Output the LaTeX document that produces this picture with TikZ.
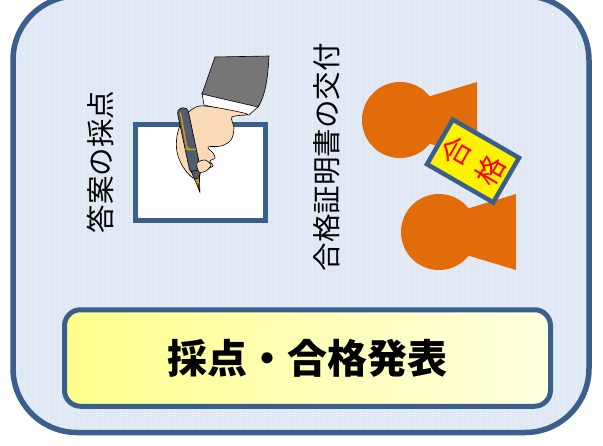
\documentclass[tikz,border=0pt]{standalone}
\usepackage{fontspec}
\newfontfamily\jp{Noto Sans CJK JP}
\definecolor{frame}{RGB}{58,95,140}
\definecolor{panel}{RGB}{224,232,243}
\definecolor{gridc}{RGB}{231,237,246}
\definecolor{stamp}{RGB}{227,108,10}
\definecolor{sleeve}{RGB}{118,118,118}
\definecolor{skin}{RGB}{250,217,183}
\definecolor{pen}{RGB}{82,92,110}
\definecolor{gold}{RGB}{196,152,30}
\definecolor{titlea}{RGB}{255,255,140}
\definecolor{titleb}{RGB}{255,255,225}
\tikzset{
  vlabel/.style={rotate=90, font=\jp\fontsize{28.5}{30}\selectfont},
  outline/.style={draw=black, line width=0.6pt},
}

\begin{document}
\begin{tikzpicture}[x=1pt,y=-1pt]
\useasboundingbox (0,0) rectangle (603,445);

% panel with faint grid
\begin{scope}
\clip[rounded corners=64] (13,-4) rectangle (589,432.5);
\fill[panel] (0,0) rectangle (603,445);
\draw[gridc, line width=0.5pt, step=6] (0,0) grid (603,445);
\end{scope}
\draw[frame, line width=5.5pt, rounded corners=64] (13,-4) rectangle (589,432.5);

% answer sheet
\draw[frame, line width=5pt, fill=white] (135.5,124.5) rectangle (265.5,220.5);

% sleeve and cuff
\draw[outline, fill=white] (202,93) -- (259,106) -- (249,115) -- (204,105) -- cycle;
\draw[outline, fill=sleeve] (215,57) -- (269,56) .. controls (268,75) and (266,95) .. (258,107)
  -- (202,94) -- cycle;

% hand
\draw[outline, fill=skin] plot[smooth cycle, tension=0.55] coordinates {
  (205,106) (247,114) (232,117) (234,128) (231,140) (221,146) (208,147)
  (213,153) (215,158) (210,161) (213,166) (206,169) (201,171) (199,178)
  (193,178) (183,167) (177,152) (177,136) (182,121) (191,110)};

% pen
\begin{scope}[shift={(182,108)}, rotate=12]
\draw[outline, fill=pen, rounded corners=4.5] (-5.5,0) rectangle (5.5,66);
\draw[outline, fill=pen] (-4,64) -- (4,64) -- (2.5,73) -- (-2.5,73) -- cycle;
\draw[outline, fill=gold] (-2.5,72) -- (2.5,72) -- (0,86) -- cycle;
\draw[line width=0.5pt] (0,77) -- (0,86);
\draw[gold, line width=1.6pt] (-2.5,4) -- (-3.6,39) -- (-1,43);
\draw[gold, line width=1.6pt] (-5.2,41) -- (5.2,43.5);
\end{scope}
\draw[outline, fill=skin] plot[smooth cycle] coordinates {(197,163) (205,160) (211,165) (206,171) (199,172)};

% labels
\node (marking) [vlabel] at (100,162) {答案の採点};
\node (issue) [vlabel] at (327,157) {合格証明書の交付};

% two persons
\foreach \px/\py in {400/120, 439/232} {
  \fill[stamp] (\px,\py) circle (38);
  \fill[stamp] (\px+24,\py-22) -- (\px+77,\py-38) -- (\px+77,\py+38) -- (\px+24,\py+22) -- cycle;
}

% certificate card
\node (card) [rotate=60, draw=frame, line width=4.5pt, fill=yellow, text=red,
  minimum width=51.5, minimum height=76.5, inner sep=0pt, align=center,
  font=\jp\fontsize{29}{39}\selectfont] at (473,161) {合\\格};

% result box
\node (result) [draw=frame, line width=5pt, rounded corners=16,
  left color=titlea, right color=titleb,
  minimum width=486, minimum height=96.5, inner sep=0pt,
  font=\jp\bfseries\fontsize{40}{40}\selectfont] at (307.5,358) {採点・合格発表};
\end{tikzpicture}
\end{document}
